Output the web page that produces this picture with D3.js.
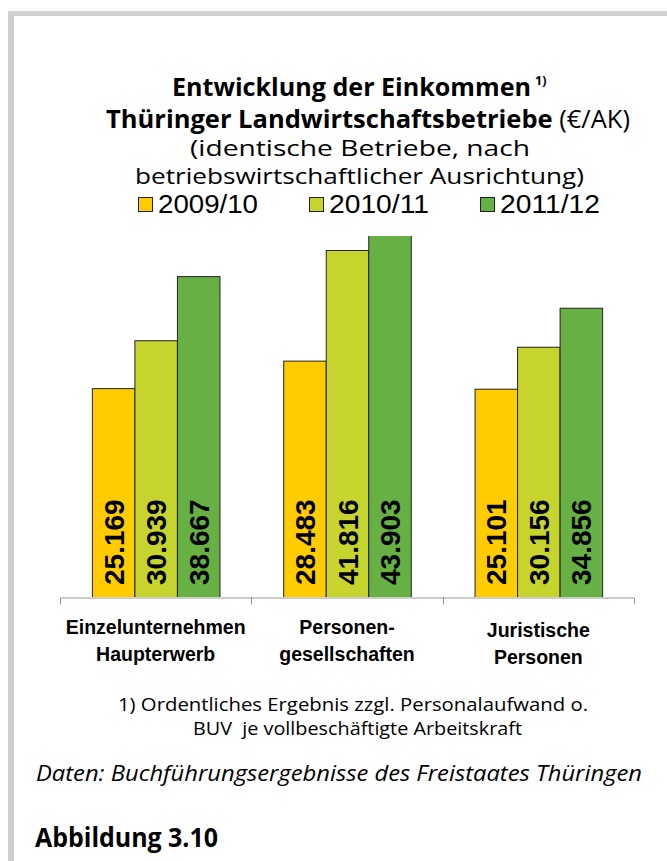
<!DOCTYPE html>
<html>
<head>
<meta charset="utf-8">
<script src="https://cdn.jsdelivr.net/npm/d3@7/dist/d3.min.js"></script>
<style>
  html, body { margin: 0; padding: 0; background: #fff; }
  svg { display: block; }
</style>
</head>
<body>
<script>
// ---- Data ----
const categories = ["Einzelunternehmen Haupterwerb", "Personengesellschaften", "Juristische Personen"];
const categoryLines = [["Einzelunternehmen", "Haupterwerb"], ["Personen-", "gesellschaften"], ["Juristische", "Personen"]];
const seriesNames = ["2009/10", "2010/11", "2011/12"];
const values2009 = [25169, 28483, 25101];
const values2010 = [30939, 41816, 30156];
const values2011 = [38667, 43903, 34856];
const seriesColors = ["#ffcc00", "#c8d42e", "#67b044"];
const axisMax = 43500;

const seriesValues = [values2009, values2010, values2011];
const table = categories.map((c, i) => ({
  cat: c,
  vals: seriesNames.map((s, j) => ({ series: s, value: seriesValues[j][i], color: seriesColors[j] }))
}));

const W = 667, H = 861;
const svg = d3.select("body").append("svg").attr("width", W).attr("height", H);
svg.append("rect").attr("width", W).attr("height", H).attr("fill", "#fff");

// frame
svg.append("rect").attr("x", 8).attr("y", 11).attr("width", W - 8).attr("height", 5).attr("fill", "#cfcfcf");
svg.append("rect").attr("x", 8).attr("y", 11).attr("width", 6).attr("height", H - 11).attr("fill", "#cfcfcf");

const sans = "'Liberation Sans', Arial, sans-serif";
const human = "'Open Sans', 'Noto Sans', sans-serif";

function line(y, x, len, parts, size) {
  const t = svg.append("text").attr("x", x).attr("y", y)
    .attr("font-family", human).attr("font-size", size).attr("fill", "#000");
  parts.forEach(p => t.append("tspan").attr("font-weight", p.w || "normal").attr("font-style", p.s || "normal").text(p.t));
  if (len) t.attr("textLength", len).attr("lengthAdjust", "spacingAndGlyphs");
  return t;
}
// title (line 1 with superscript footnote mark in the same text element)
const t1 = svg.append("text").attr("y", 96).attr("font-family", human).attr("font-weight", "bold")
  .attr("font-size", 25.5).attr("fill", "#000");
t1.append("tspan").attr("x", 172).attr("textLength", 359).attr("lengthAdjust", "spacingAndGlyphs")
  .text("Entwicklung der Einkommen");
t1.append("tspan").attr("x", 535).attr("y", 85).attr("font-size", 12.5).text("1)");

line(128, 106, 524, [{ t: "Thüringer Landwirtschaftsbetriebe", w: "bold" }, { t: " (€/AK)" }], 25.5);
line(156, 190, 340, [{ t: "(identische Betriebe, nach" }], 22);
line(184, 135, 449, [{ t: "betriebswirtschaftlicher Ausrichtung)" }], 22);

// legend
const legendX = [138, 309, 480];
const lg = svg.append("g");
seriesNames.forEach((s, i) => {
  lg.append("rect").attr("x", legendX[i] + 0.5).attr("y", 197.5).attr("width", 14).attr("height", 14)
    .attr("fill", seriesColors[i]).attr("stroke", "#222").attr("stroke-width", 1);
  lg.append("text").attr("x", legendX[i] + 20).attr("y", 212.5).attr("font-family", sans)
    .attr("font-size", 26.5).attr("fill", "#000")
    .attr("textLength", 100).attr("lengthAdjust", "spacingAndGlyphs").text(s);
});

// scales
const x0 = d3.scaleBand().domain(categories).range([60, 634]).padding(0);
const x1 = d3.scaleBand().domain(seriesNames).range([0, x0.bandwidth()]).paddingInner(0).paddingOuter(0.75);
const y = d3.scaleLinear().domain([0, axisMax]).range([597, 236]);

svg.append("defs").append("clipPath").attr("id", "plot")
  .append("rect").attr("x", 0).attr("y", y(axisMax)).attr("width", W).attr("height", y(0) - y(axisMax));

const groups = svg.append("g").attr("clip-path", "url(#plot)")
  .selectAll("g").data(table).join("g").attr("transform", d => `translate(${x0(d.cat)},0)`);

groups.selectAll("rect").data(d => d.vals).join("rect")
  .attr("x", d => x1(d.series) + 0.5)
  .attr("y", d => y(d.value) + 0.5)
  .attr("width", x1.bandwidth())
  .attr("height", d => y(0) - y(d.value))
  .attr("fill", d => d.color)
  .attr("stroke", "#222").attr("stroke-width", 1);

const de = d3.formatLocale({ decimal: ",", thousands: ".", grouping: [3], currency: ["", "€"] });
const fmt = de.format(",");
groups.selectAll("text").data(d => d.vals).join("text")
  .attr("transform", d => `translate(${x1(d.series) + x1.bandwidth() / 2 + 10.5},585) rotate(-90)`)
  .attr("font-family", sans).attr("font-weight", "bold").attr("font-size", 28).attr("fill", "#000")
  .text(d => fmt(d.value));

// axis
const axis = svg.append("g").attr("transform", `translate(0,${y(0) + 0.5})`)
  .call(d3.axisBottom(x0).tickSize(0).tickSizeOuter(7).tickFormat(""));
axis.select(".domain").attr("stroke", "#999");
axis.selectAll(".tick").remove();
svg.append("g").selectAll("line").data(categories.slice(1)).join("line")
  .attr("x1", d => Math.round(x0(d)) + 0.5).attr("x2", d => Math.round(x0(d)) + 0.5)
  .attr("y1", y(0)).attr("y2", y(0) + 7.5).attr("stroke", "#999");

// category labels
const cl = svg.append("g");
categoryLines.forEach((lines, i) => {
  const cx = x0(categories[i]) + x0.bandwidth() / 2;
  lines.forEach((l, k) => {
    cl.append("text").attr("x", cx).attr("y", 634 + k * 27 + (i === 2 ? 3 : 0))
      .attr("text-anchor", "middle").attr("font-family", sans).attr("font-weight", "bold")
      .attr("font-size", 19.5).attr("fill", "#000").text(l);
  });
});

// footnotes
line(711, 118, 470, [{ t: "1) Ordentliches Ergebnis zzgl. Personalaufwand o." }], 18.5);
line(735, 193, 329, [{ t: "BUV  je vollbeschäftigte Arbeitskraft" }], 18.5).attr("xml:space", "preserve");
line(781, 36, 606, [{ t: "Daten: Buchführungsergebnisse des Freistaates Thüringen", s: "italic" }], 21);
line(847, 35, 183, [{ t: "Abbildung 3.10", w: "bold" }], 26.5);
</script>
</body>
</html>
